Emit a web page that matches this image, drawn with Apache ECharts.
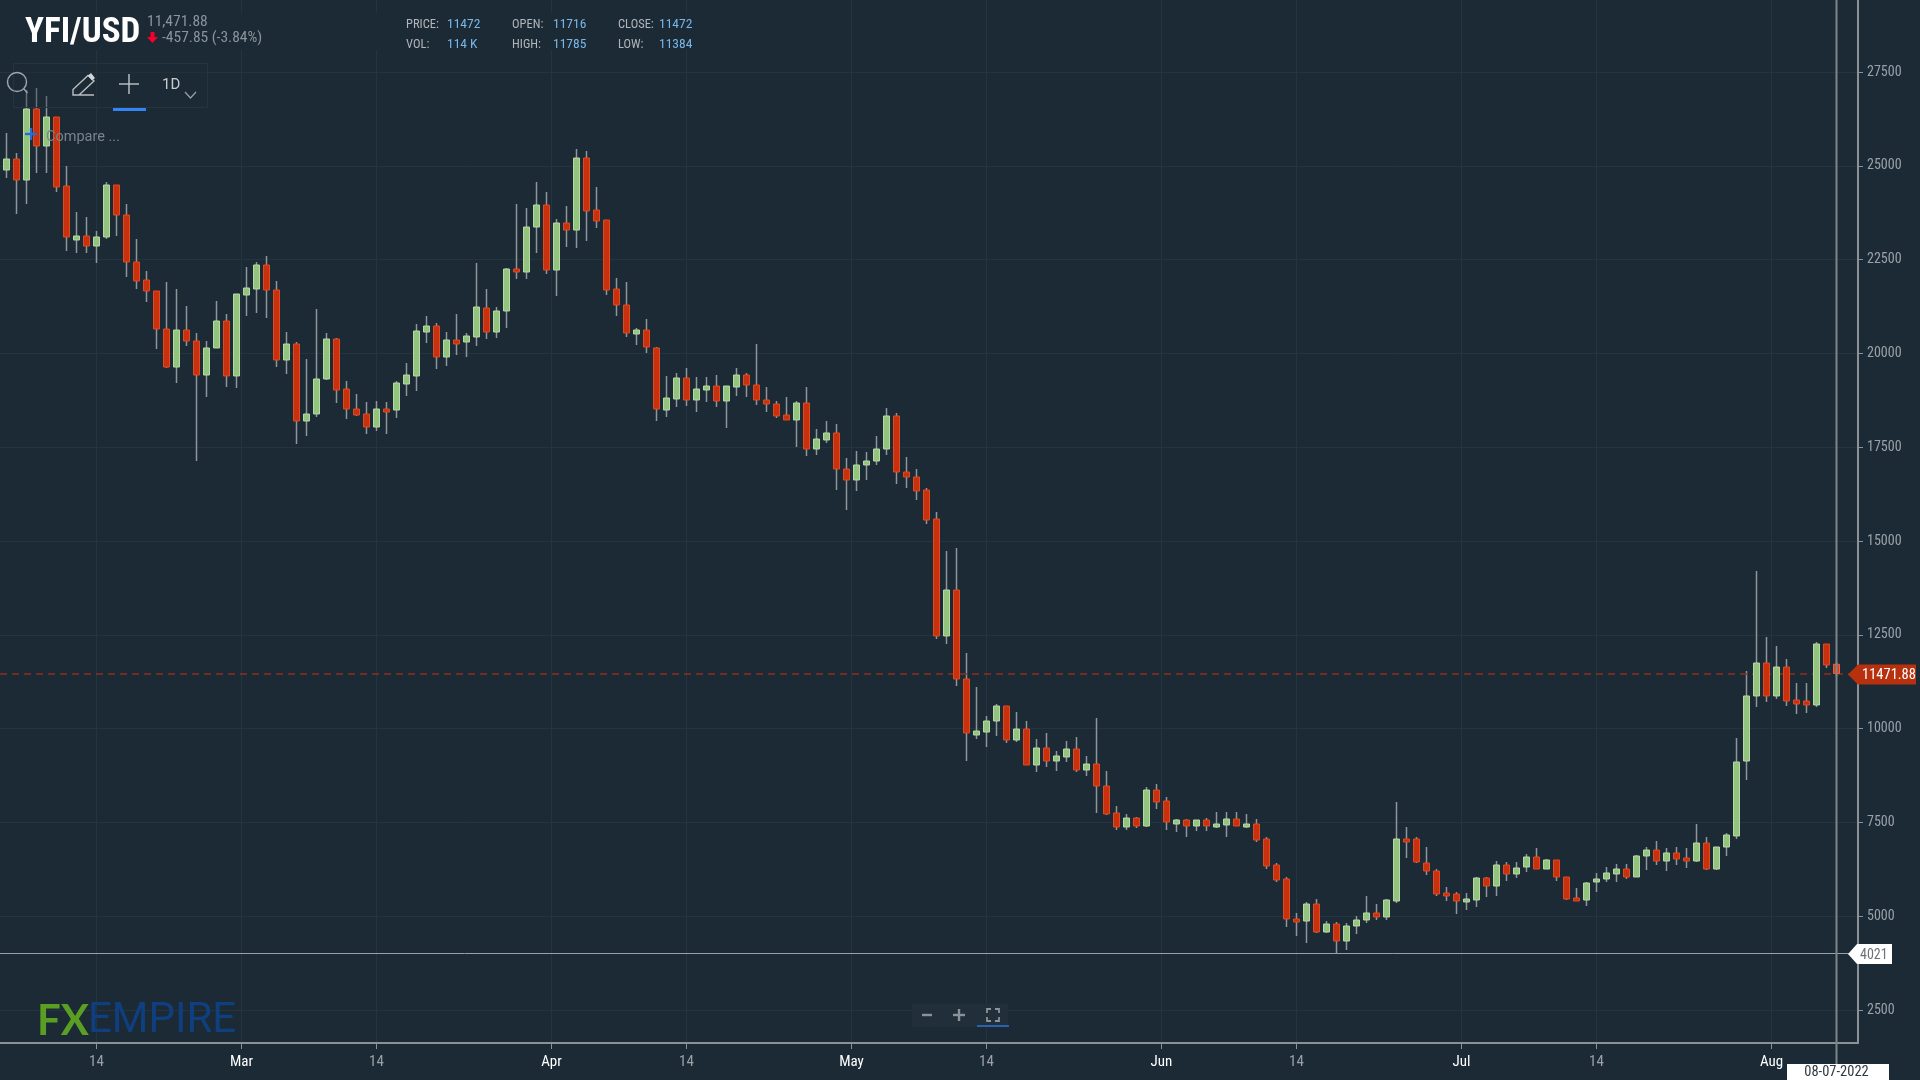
<!DOCTYPE html>
<html><head><meta charset="utf-8"><title>YFI/USD</title>
<style>html,body{margin:0;padding:0;background:#1c2a36;overflow:hidden}#c{width:1920px;height:1080px}</style>
<script src="https://cdn.jsdelivr.net/npm/echarts@6/dist/echarts.min.js"></script>
</head><body><div id="c"></div>
<script>
const firstDate = '2022-02-05';
const opens = [24888,25182,24622,26514,25528,26301,24462,23023,23130,22863,23103,24489,23689,22437,21957,21664,20651,19638,20624,20331,19425,20145,20864,19399,21557,21717,22357,21690,19825,20251,18199,18386,19319,20385,19052,18519,18386,18039,18519,18492,19185,19399,20571,20731,19905,20358,20305,20438,21211,20571,21131,22250,22170,23369,23956,22223,23476,23289,25208,23822,23556,21717,21291,20518,20624,20145,18492,18786,19345,18759,19025,19132,18732,19105,19425,19159,18759,18652,18359,18226,18679,17453,17693,17880,16920,16627,17027,17133,17453,18333,16840,16707,16360,15588,12470,13695,11324,9831,9911,10204,10604,9698,9991,9032,9485,9138,9245,9458,8898,9058,8472,7753,7379,7619,7406,8365,8072,7459,7566,7406,7566,7379,7433,7593,7379,7459,7060,6367,5994,4928,4874,5327,4581,4794,4341,4741,4901,5088,4981,5407,7060,7060,6420,6207,5621,5594,5381,5434,6020,5807,6367,6127,6313,6580,6260,6500,6047,5487,5434,5914,5994,6127,6260,6047,6607,6766,6473,6687,6553,6473,6953,6260,6846,7140,9138,10871,11750,10871,11643,10764,10737,10631,12256,11716];
const closes = [25182,24622,26514,25528,26301,24435,23103,23130,22863,23103,24489,23689,22437,21930,21664,20651,19638,20624,20331,19425,20145,20864,19399,21584,21744,22357,21690,19825,20251,18199,18386,19319,20385,19025,18519,18359,18039,18519,18439,19212,19425,20598,20731,19905,20358,20251,20465,21237,20571,21131,22250,22170,23369,23956,22223,23476,23289,25208,23796,23529,21690,21291,20545,20624,20171,18519,18812,19345,18759,19052,19132,18732,19132,19425,19159,18759,18652,18333,18226,18679,17453,17720,17880,16920,16627,17027,17133,17453,18333,16840,16707,16334,15561,12470,13695,11324,9885,9938,10204,10604,9698,9991,9032,9485,9138,9272,9458,8898,9058,8472,7726,7379,7619,7406,8365,8046,7513,7566,7406,7566,7406,7459,7593,7406,7459,7033,6340,5967,4928,4848,5327,4581,4794,4341,4741,4901,5088,4981,5434,7060,6980,6447,6207,5594,5541,5407,5461,6020,5807,6367,6127,6287,6580,6260,6500,6047,5461,5407,5887,5994,6154,6260,6047,6607,6766,6473,6687,6527,6473,6953,6260,6846,7166,9112,10871,11750,10871,11643,10737,10657,10631,12256,11697,11472];
const lows = [24675,23716,23982,24809,24809,24302,22730,22677,22677,22410,23050,23130,22037,21717,21371,20118,19612,19212,20198,17133,18839,20145,19105,19079,20998,21078,20944,19638,19452,17586,17800,18306,19292,18679,18253,18333,17853,17933,17853,18279,18866,18999,20278,19585,19665,19958,19905,20198,20385,20411,20678,21984,21984,22677,22117,21531,22836,22810,22996,23343,21557,20998,20438,20225,20012,18199,18306,18572,18599,18439,18706,18572,18013,18866,18839,18626,18439,18279,18226,17506,17267,17293,17613,16360,15827,16334,16627,17027,17293,16520,16414,16094,15454,12390,12256,11137,9138,9725,9511,9805,9618,9645,9032,8845,8978,8872,9112,8845,8739,7753,7699,7299,7299,7353,7379,7859,7299,7246,7113,7273,7273,7353,7113,7406,7353,6980,6260,5914,4714,4475,4288,4555,4555,4022,4101,4528,4821,4901,4901,5354,6553,6420,6100,5541,5407,5061,5167,5247,5514,5541,5940,6020,6180,6260,6260,5940,5434,5407,5274,5647,5914,5914,5994,6047,6233,6367,6207,6367,6287,6447,6233,6233,6607,7060,8632,10577,10711,10791,10604,10391,10418,10577,11617,11384];
const highs = [25875,25341,27021,27074,26861,26301,24995,23769,23636,23263,24569,24489,23982,23050,22197,21664,21904,21717,21264,20545,20331,21397,21051,21584,22303,22437,22597,21930,20571,20305,19852,21184,20545,20411,19265,18919,18706,18732,18706,19265,19745,20784,20998,20811,20571,21051,20545,22410,21717,21237,22277,23982,23876,24569,24302,23583,23929,25448,25395,24435,23556,22010,21904,20678,20918,20171,19399,19479,19612,19372,19372,19425,19132,19612,19479,20251,19105,18732,18839,18732,19105,17986,18199,18119,17213,17400,17373,17800,18546,18413,17240,16920,16414,15774,14735,14815,12017,11110,10338,10657,10604,10444,10204,9725,9885,9405,9671,9778,9272,10284,8872,7939,7726,7646,8445,8525,8179,7593,7593,7566,7619,7779,7779,7779,7726,7593,7113,6420,6047,5088,5381,5461,4874,4848,4821,5008,5541,5327,5461,8046,7379,7113,6846,6260,5780,5647,5621,6047,6047,6473,6447,6447,6660,6820,6527,6500,6047,5754,5914,6154,6313,6393,6393,6633,6846,7006,6820,6846,6820,7459,7113,6846,7220,9751,11537,14202,12443,12203,11857,11217,11217,12310,12256,11785];

const yTicks = [2500,5000,7500,10000,12500,15000,17500,20000,22500,25000,27500];
const xTickDates = ['2022-02-14T00:00Z','2022-02-28T12:00Z','2022-03-14T00:00Z','2022-03-31T12:00Z','2022-04-14T00:00Z','2022-04-30T12:00Z','2022-05-14T00:00Z','2022-05-31T12:00Z','2022-06-14T00:00Z','2022-06-30T12:00Z','2022-07-14T00:00Z','2022-07-31T12:00Z'];
const xTickLabels = ['14','Mar','14','Apr','14','May','14','Jun','14','Jul','14','Aug'];
const currentPrice = 11471.88;
const crosshairPrice = 4021;
const crosshairDate = '08-07-2022';

const DAY = 864e5;
const t0 = Date.parse(firstDate + 'T00:00Z');
const times = opens.map((_, i) => t0 + i * DAY);
const tickTimes = xTickDates.map(d => Date.parse(d));
const wickData = times.map((t, i) => [t, opens[i], closes[i], lows[i], highs[i]]);
const bodyData = times.map((t, i) => [t, opens[i], closes[i], Math.min(opens[i], closes[i]), Math.max(opens[i], closes[i])]);
bodyData[bodyData.length - 1] = {value: bodyData[bodyData.length - 1], itemStyle: {color0: '#d8431d', borderColor0: '#f0623a'}};

const NARROW = '"Roboto Condensed","Liberation Sans Narrow",Roboto,sans-serif';
const BG = '#1c2a36', GRID = '#243441', AXIS = '#8a9297', LBL = '#9aa2a8';

function txt(x, y, s, size, color, extra) {
  return {type: 'text', z: 101, x: x, y: y, silent: true,
    style: Object.assign({text: s, fontFamily: NARROW, fontSize: size, fill: color, verticalAlign: 'middle'}, extra || {})};
}
function line(pts, stroke, w) {
  return {type: 'polyline', z: 101, silent: true, shape: {points: pts}, style: {stroke: stroke, fill: null, lineWidth: w || 1.3}};
}
function poly(pts, fill) {
  return {type: 'polygon', z: 101, silent: true, shape: {points: pts}, style: {fill: fill}};
}
function rect(x, y, w, h, fill, stroke) {
  return {type: 'rect', z: 100, silent: true, shape: {x: x, y: y, width: w, height: h}, style: {fill: fill, stroke: stroke || null, lineWidth: 1}};
}
const chrome = [
  rect(0, 13, 720, 37, BG),
  txt(25, 33, 'YFI/USD', 35, '#ffffff', {fontWeight: 'bold'}),
  txt(147, 22, '11,471.88', 15.5, '#8b949b'),
  poly([[150.5,32],[154.5,32],[154.5,37],[158,37],[152.5,43],[147,37],[150.5,37]], '#f5002d'),
  txt(162, 38, '-457.85 (-3.84%)', 15.5, '#8b949b'),
  txt(406, 25, 'PRICE:', 12.5, '#b0b6ba'), txt(447, 25, '11472', 13.5, '#78b7e8'),
  txt(512, 25, 'OPEN:', 12.5, '#b0b6ba'), txt(553, 25, '11716', 13.5, '#78b7e8'),
  txt(618, 25, 'CLOSE:', 12.5, '#b0b6ba'), txt(659, 25, '11472', 13.5, '#78b7e8'),
  txt(406, 45, 'VOL:', 12.5, '#b0b6ba'), txt(447, 45, '114 K', 13.5, '#78b7e8'),
  txt(512, 45, 'HIGH:', 12.5, '#b0b6ba'), txt(553, 45, '11785', 13.5, '#78b7e8'),
  txt(618, 45, 'LOW:', 12.5, '#b0b6ba'), txt(659, 45, '11384', 13.5, '#78b7e8'),
  rect(13.5, 63.5, 194, 44, 'rgba(28,42,54,0.35)', '#253440'),
  {type: 'circle', z: 101, silent: true, shape: {cx: 17, cy: 82, r: 9.5}, style: {stroke: '#a0a6ab', fill: null, lineWidth: 1.4}},
  line([[24,89],[27.5,93]], '#a0a6ab', 1.4),
  line([[94,95],[73,95],[73,89.5],[88,75.5],[94,81],[79,95]], '#b9bdc0', 1.4),
  poly([[88,75.5],[91,73],[95,78],[92,80.5]], '#d2d5d7'),
  line([[119,84],[139,84]], '#c2c6c9', 1.4),
  line([[129,74],[129,94]], '#c2c6c9', 1.4),
  txt(162, 85, '1D', 15, '#c8ccce', {fontFamily: 'Roboto,sans-serif'}),
  line([[185,92],[190.5,98],[196,92]], '#9aa0a5', 1.2),
  rect(113, 108, 33, 3, '#3385f5'),
  line([[25,134],[37,134]], '#1f6fd6', 2.4),
  line([[31,128],[31,140]], '#1f6fd6', 2.4),
  txt(46, 137, 'Compare ...', 14.5, '#79848c', {fontFamily: 'Roboto,sans-serif'}),
  rect(912, 1004, 96, 23, '#212f3b'),
  line([[922,1015],[932,1015]], '#8b9298', 2.4),
  line([[953,1015],[965,1015]], '#8b9298', 2.4),
  line([[959,1009],[959,1021]], '#8b9298', 2.4),
  line([[987,1013],[987,1009],[991,1009]], '#8b9298', 1.8),
  line([[995,1009],[999,1009],[999,1013]], '#8b9298', 1.8),
  line([[999,1017],[999,1021],[995,1021]], '#8b9298', 1.8),
  line([[991,1021],[987,1021],[987,1017]], '#8b9298', 1.8),
  rect(977, 1025, 32, 2, '#2a62b3'),
  txt(37, 1021, 'FX', 42, '#5a9e23', {fontFamily: 'Lato,sans-serif', fontWeight: 'bold'}),
  txt(88, 1021, 'EMPIRE', 42, '#0f3f7f', {fontFamily: 'Roboto,sans-serif'})
];

const chart = echarts.init(document.getElementById('c'), null, {renderer: 'canvas'});
chart.setOption({
  animation: false,
  backgroundColor: BG,
  grid: {left: 0, right: 62, top: 0, bottom: 37},
  xAxis: {
    type: 'value',
    scale: true,
    min: t0 - 0.65 * DAY, max: t0 + (185.8 - 0.65) * DAY,
    axisLine: {show: true, onZero: false, lineStyle: {color: AXIS, width: 2}},
    axisTick: {show: true, length: 6, customValues: tickTimes, lineStyle: {color: AXIS, width: 1}},
    splitLine: {show: true, lineStyle: {color: GRID, width: 1}},
    axisLabel: {
      customValues: tickTimes, margin: 11.5, hideOverlap: false, showMinLabel: true, showMaxLabel: true,
      formatter: v => { const s = xTickLabels[tickTimes.indexOf(v)]; return (s === '14' ? '{d|' : '{m|') + s + '}'; },
      rich: {
        d: {color: LBL, fontSize: 15, fontFamily: NARROW},
        m: {color: '#ffffff', fontSize: 15, fontFamily: NARROW}
      }
    }
  },
  yAxis: {
    type: 'value', position: 'right', scale: true, min: 1623, max: 29419,
    axisLine: {show: true, lineStyle: {color: AXIS, width: 2}},
    axisTick: {show: true, length: 5, customValues: yTicks, lineStyle: {color: AXIS, width: 1}},
    splitLine: {show: true, lineStyle: {color: GRID, width: 1}},
    axisLabel: {customValues: yTicks, margin: 9, color: LBL, fontSize: 14, fontFamily: NARROW, padding: [2, 0, 0, 0], formatter: v => String(v), showMinLabel: true, showMaxLabel: true}
  },
  series: [
    {
      type: 'candlestick', name: 'wick', layout: 'horizontal', barWidth: 1, data: wickData, silent: true, z: 3,
      encode: {x: 0, y: [1, 2, 3, 4]},
      itemStyle: {color: '#8e959b', color0: '#8e959b', borderColor: '#8e959b', borderColor0: '#8e959b', borderWidth: 1.5},
      markLine: {
        silent: true, symbol: 'none', animation: false, label: {show: false}, z: 4,
        data: [
          {yAxis: currentPrice, lineStyle: {color: '#8f2f1a', type: [7, 5], width: 1.5}},
          {yAxis: crosshairPrice, lineStyle: {color: '#9aa1a6', type: 'solid', width: 1}}
        ]
      }
    },
    {
      type: 'candlestick', name: 'YFI/USD', layout: 'horizontal', barWidth: 7, data: bodyData, silent: true, z: 5,
      encode: {x: 0, y: [1, 2, 3, 4]},
      itemStyle: {color: '#93c47d', color0: '#c9300e', borderColor: '#b7d9a6', borderColor0: '#df4a20', borderWidth: 1}
    }
  ],
  graphic: {elements: chrome}
});

const last = times[times.length - 1];
const px = chart.convertToPixel({xAxisIndex: 0, yAxisIndex: 0}, [last, crosshairPrice]);
const py = chart.convertToPixel({xAxisIndex: 0, yAxisIndex: 0}, [last, currentPrice]);
const tagX = 1848;
const overlays = [
  line([[px[0],0],[px[0],1080]], '#7d858a', 2),
  poly([[tagX,py[1]+1],[tagX+10,py[1]-9],[tagX+68,py[1]-9],[tagX+68,py[1]+11],[tagX+10,py[1]+11]], '#b8310e'),
  txt(tagX + 14, py[1] + 2, currentPrice.toFixed(2), 14.5, '#ffffff'),
  poly([[tagX,px[1]+1],[tagX+9,px[1]-9],[tagX+44,px[1]-9],[tagX+44,px[1]+11],[tagX+9,px[1]+11]], '#ffffff'),
  txt(tagX + 12, px[1] + 2, String(crosshairPrice), 14, '#6c7378'),
  rect(1787, 1064, 102, 16, '#ffffff'),
  txt(px[0], 1072, crosshairDate, 14.5, '#2d3840', {align: 'center'})
];
overlays.forEach(e => { e.z = 102; });
chart.setOption({graphic: {elements: chrome.concat(overlays)}}, {replaceMerge: ['graphic']});
</script></body></html>
